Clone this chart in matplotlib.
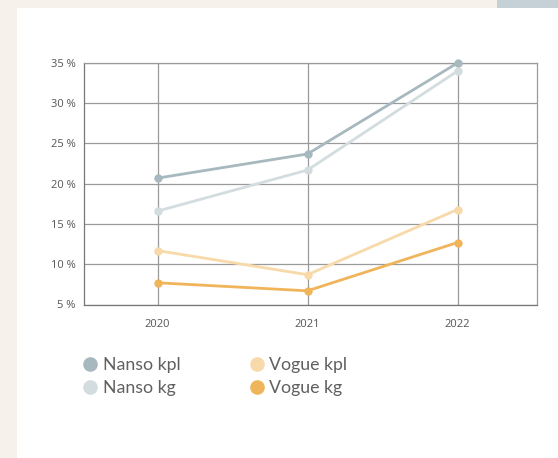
import matplotlib.pyplot as plt
from matplotlib.patches import Rectangle
from matplotlib.lines import Line2D

# data
years = ['2020', '2021', '2022']
nanso_kpl = [20.7, 23.7, 35.0]
nanso_kg = [16.6, 21.7, 34.0]
vogue_kpl = [11.7, 8.7, 16.8]
vogue_kg = [7.7, 6.7, 12.7]
series_names = ['Nanso kpl', 'Nanso kg', 'Vogue kpl', 'Vogue kg']
series_colors = ['#a7b8bf', '#d3dcdf', '#f8d9a9', '#f0b45a']
y_ticks = [5, 10, 15, 20, 25, 30, 35]

W, H = 558, 458
fig = plt.figure(figsize=(W / 100, H / 100), dpi=100)
fig.patch.set_facecolor('#f6f1ea')

# white panel and the small bar on top right
fig.patches.append(Rectangle((17 / W, 0), 1 - 17 / W, 1 - 8 / H, transform=fig.transFigure,
                             facecolor='white', edgecolor='none', zorder=-5))
fig.patches.append(Rectangle((497 / W, 1 - 8 / H), 1 - 497 / W, 8 / H, transform=fig.transFigure,
                             facecolor='#c5d1d7', edgecolor='none', zorder=-5))

ax = fig.add_axes([84 / W, 1 - 304.5 / H, (537 - 84) / W, (304.5 - 63) / H])
ax.set_facecolor('white')

x = list(range(len(years)))
all_series = [nanso_kpl, nanso_kg, vogue_kpl, vogue_kg]
for vals, name, col in zip(all_series, series_names, series_colors):
    ax.plot(x, vals, color=col, lw=2.0, marker='o', markersize=5, clip_on=False,
            zorder=3, label=name)

ax.set_xlim(-0.49, 2.53)
ax.set_ylim(5, 35)
ax.set_xticks(x)
ax.set_xticklabels(years)
ax.set_yticks(y_ticks)
ax.set_yticklabels([f'{t} %' for t in y_ticks])
ax.grid(True, color='#9a9a9a', lw=0.9)
ax.set_axisbelow(True)
for sp in ax.spines.values():
    sp.set_color('#9a9a9a')
    sp.set_linewidth(0.9)
ax.spines['left'].set_color('#777777')
ax.spines['bottom'].set_color('#777777')
ax.tick_params(length=0, labelsize=8, labelcolor='#555555')
ax.tick_params(axis='x', pad=10.5)
ax.tick_params(axis='y', pad=6)
for lab in ax.get_xticklabels() + ax.get_yticklabels():
    lab.set_fontfamily('Open Sans')

handles = [Line2D([], [], ls='none', marker='o', markersize=10.5, color=c,
                  markeredgecolor='none') for c in series_colors]
leg = fig.legend(handles, series_names, ncol=2, loc='upper left',
                 bbox_to_anchor=(83 / W, 1 - 357 / H), frameon=False,
                 prop={'family': 'Lato', 'size': 12.8}, handlelength=0.8,
                 handletextpad=0.3, columnspacing=3.9, labelspacing=0.4,
                 borderaxespad=0, borderpad=0)
for t in leg.get_texts():
    t.set_color('#606060')

fig.savefig('out.png', dpi=100, facecolor=fig.get_facecolor())
